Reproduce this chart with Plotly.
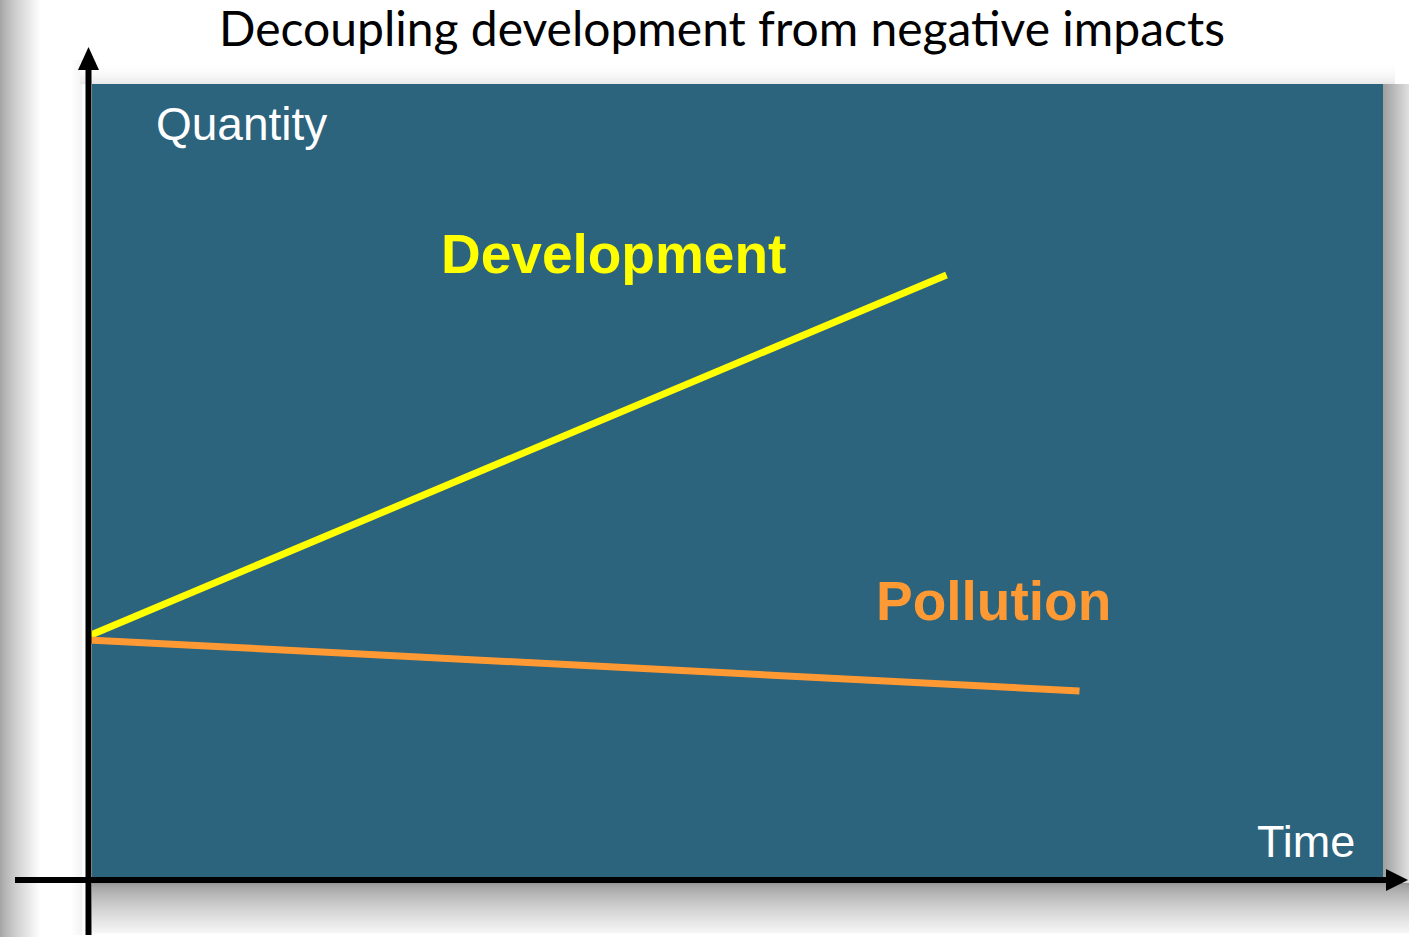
import plotly.graph_objects as go

W, H = 1409, 937

# Data (arbitrary units)
time_dev = [0.0, 8.58]
development = [2.44, 6.05]
time_pol = [0.0, 9.91]
pollution = [2.40, 1.89]

title_text = "Decoupling development from negative impacts"
y_label = "Quantity"
x_label = "Time"

# axis mapping: origin at pixel (88.5, 880), 100 px per unit
OX, OY, K = 88.5, 880.0, 100.0
x_range = [-OX / K, (W - OX) / K]
y_range = [-(H - OY) / K, OY / K]


def px(x):
    return x / W


def py(y):
    return 1 - y / H


shapes = []


def rect(x0, y0, x1, y1, color, layer="below"):
    shapes.append(dict(type="rect", xref="paper", yref="paper",
                       x0=px(x0), x1=px(x1), y0=py(y1), y1=py(y0),
                       fillcolor=color, line=dict(width=0), layer=layer))


def gray(v):
    v = int(max(0, min(255, v)))
    return f"rgb({v},{v},{v})"


# left slide-edge gradient
for i in range(40):
    rect(i, 0, i + 1.2, H, gray(165 + (255 - 165) * (i / 40) ** 0.8))
# soft shadow near axis on the left
for i in range(12):
    rect(70 + i, 60, 71.2 + i, 935, gray(255 - 12 * (i / 12)))
# glow above panel
for i in range(22):
    rect(80, 62 + i, 1395, 63.2 + i, gray(255 - 22 * (i / 22) ** 2))
# bottom shadow
for i in range(50):
    rect(92, 883 + i, 1409, 884.2 + i, gray(150 + (247 - 150) * (i / 50) ** 0.7))
# right shadow
for i in range(26):
    rect(1383 + i, 84, 1384.2 + i, 883, gray(160 + (225 - 160) * (i / 26)))

# panel
rect(92, 84, 1383, 878, "#2C637D")

# axes lines with arrows
shapes.append(dict(type="line", xref="paper", yref="paper",
                   x0=px(88.5), x1=px(88.5), y0=py(935), y1=py(66),
                   line=dict(color="black", width=6), layer="above"))
shapes.append(dict(type="path", xref="paper", yref="paper",
                   path=f"M {px(88.5)},{py(47)} L {px(78)},{py(70)} L {px(99)},{py(70)} Z",
                   fillcolor="black", line=dict(width=0), layer="above"))
shapes.append(dict(type="line", xref="paper", yref="paper",
                   x0=px(15), x1=px(1390), y0=py(880), y1=py(880),
                   line=dict(color="black", width=6), layer="above"))
shapes.append(dict(type="path", xref="paper", yref="paper",
                   path=f"M {px(1408)},{py(880)} L {px(1386)},{py(869)} L {px(1386)},{py(891)} Z",
                   fillcolor="black", line=dict(width=0), layer="above"))

fig = go.Figure()
fig.add_trace(go.Scatter(x=time_dev, y=development, mode="lines",
                         line=dict(color="#FFFF00", width=7), showlegend=False,
                         hoverinfo="skip"))
fig.add_trace(go.Scatter(x=time_pol, y=pollution, mode="lines",
                         line=dict(color="#FF9933", width=7), showlegend=False,
                         hoverinfo="skip"))

annotations = [
    dict(text=title_text, x=px(722), y=py(28), xanchor="center", yanchor="middle",
         font=dict(family="Lato", size=48, color="black")),
    dict(text=y_label, x=px(154), y=py(124), xanchor="left", yanchor="middle",
         font=dict(family="Liberation Sans, Arial", size=46, color="white")),
    dict(text=x_label, x=px(1357), y=py(841), xanchor="right", yanchor="middle",
         font=dict(family="Liberation Sans, Arial", size=45, color="white")),
    dict(text="<b>Development</b>", x=px(439), y=py(254), xanchor="left", yanchor="middle",
         font=dict(family="Liberation Sans, Arial", size=55, color="#FFFF00")),
    dict(text="<b>Pollution</b>", x=px(874), y=py(601), xanchor="left", yanchor="middle",
         font=dict(family="Liberation Sans, Arial", size=55, color="#FF9933")),
]
for a in annotations:
    a.update(xref="paper", yref="paper", showarrow=False)

fig.update_layout(
    width=W, height=H,
    margin=dict(l=0, r=0, t=0, b=0),
    paper_bgcolor="white", plot_bgcolor="rgba(0,0,0,0)",
    xaxis=dict(range=x_range, visible=False, fixedrange=True),
    yaxis=dict(range=y_range, visible=False, fixedrange=True),
    shapes=shapes, annotations=annotations,
)

fig.write_html("out.html", config={"displayModeBar": False},
               post_script="document.body.style.margin='0px';document.body.style.overflow='hidden';")
